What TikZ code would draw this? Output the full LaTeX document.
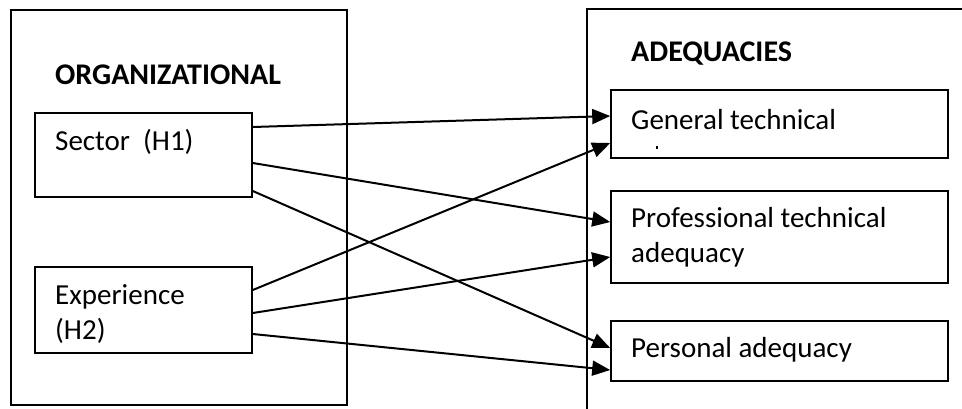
\documentclass[tikz,border=0pt]{standalone}
\usepackage{fontspec}
\setmainfont{Carlito}
\usetikzlibrary{arrows.meta}

\tikzset{
  inbox/.style={draw, line width=1.6pt, minimum width=217pt, inner sep=0pt},
  outbox/.style={draw, line width=1.6pt, inner sep=0pt},
  txt/.style={anchor=west, inner sep=0pt, align=left, font=\fontsize{29}{35}\selectfont},
  head/.style={txt, font=\fontsize{30}{35}\selectfont\bfseries},
  link/.style={line width=2pt, -{Triangle[length=18pt, width=15pt]}}
}

\begin{document}
\begin{tikzpicture}[x=1pt, y=-1pt]

    \useasboundingbox (0,0) rectangle (962,408);

    % Outer frames
    \node[outbox, minimum width=336pt, minimum height=395pt] (org) at (179,207.5) {};
    \draw[line width=1.6pt] (990,9) -- (587,9) -- (587,440);

    % Headings
    \node[head] (orgtitle) at (55,75) {ORGANIZATIONAL};
    \node[head] (adqtitle) at (631,54) {ADEQUACIES};

    % Left boxes
    \node[inbox, minimum height=84pt] (sector) at (143.5,155) {};
    \node[inbox, minimum height=86pt] (exper) at (143.5,310) {};
    \node[txt] (sectortxt) at (55,142) {Sector~ (H1)};
    \node[txt] (expertxt) at (55,314.5) {Experience\\(H2)};

    % Right boxes
    \node[inbox, minimum width=337pt, minimum height=68pt] (general) at (779.5,124) {};
    \node[inbox, minimum width=337pt, minimum height=92pt] (profess) at (779.5,237) {};
    \node[inbox, minimum width=337pt, minimum height=60pt] (personal) at (779.5,351) {};
    \node[txt] (generaltxt) at (631,120) {General technical};
    \node[txt] (professtxt) at (631,237.5) {Professional technical\\adequacy};
    \node[txt] (personaltxt) at (631,350) {Personal adequacy};

    % clipped second line of the first box
    \fill (656,146) rectangle (658,149);

    % Links
    \draw[link] ([yshift=28pt]sector.east)  -- ([yshift=8pt]general.west);
    \draw[link] ([yshift=-8pt]sector.east)  -- ([yshift=15pt]profess.west);
    \draw[link] ([yshift=-36pt]sector.east) -- ([yshift=3pt]personal.west);
    \draw[link] ([yshift=20pt]exper.east)   -- ([yshift=-19pt]general.west);
    \draw[link] ([yshift=-3pt]exper.east)   -- ([yshift=-20pt]profess.west);
    \draw[link] ([yshift=-24pt]exper.east)  -- ([yshift=-19pt]personal.west);

\end{tikzpicture}
\end{document}
